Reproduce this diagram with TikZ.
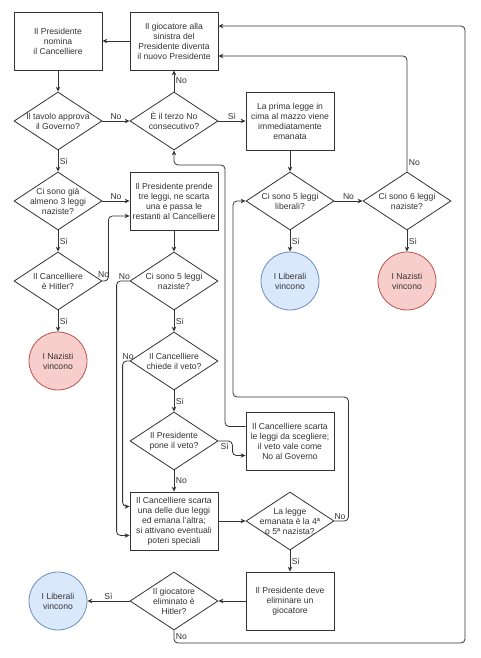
\documentclass[tikz,border=0pt]{standalone}
\usepackage{fontspec}
\setmainfont{Liberation Sans}
\usetikzlibrary{shapes.geometric,arrows.meta}
\definecolor{linec}{HTML}{333333}
\definecolor{txtc}{HTML}{333333}
\definecolor{redfill}{HTML}{F8CECC}
\definecolor{redline}{HTML}{B85450}
\definecolor{bluefill}{HTML}{DAE8FC}
\definecolor{blueline}{HTML}{6C8EBF}
\begin{document}
\begin{tikzpicture}[x=1pt,y=-1pt,
  every node/.style={font=\fontsize{8.6}{10}\selectfont, text=txtc},
  box/.style={draw=linec, fill=white, minimum width=88, minimum height=58, align=center, inner sep=0pt, line width=0.8pt},
  dia/.style={draw=linec, fill=white, diamond, aspect=1.52, minimum width=88, minimum height=58, inner sep=0pt, line width=0.8pt, label={[align=center]center:{#1}}},
  redc/.style={circle, draw=redline, fill=redfill, minimum size=58, inner sep=0pt, align=center, line width=0.8pt},
  bluec/.style={circle, draw=blueline, fill=bluefill, minimum size=58, inner sep=0pt, align=center, line width=0.8pt},
  arr/.style={draw=linec, line width=0.8pt, -{Stealth[length=5pt,width=4.5pt]}, rounded corners=4pt},
  lbl/.style={inner sep=1.5pt}
]
\useasboundingbox (0,0) rectangle (480,658);

% column 1
\node[box] (nom) at (58,41) {Il Presidente\\nomina\\il Cancelliere};
\node[dia={Il tavolo approva\\il Governo?}] (tav) at (58,121) {};
\node[dia={Ci sono già\\almeno 3 leggi\\naziste?}] (gia) at (58,201) {};
\node[dia={Il Cancelliere\\è Hitler?}] (hit) at (58,281) {};
\node[redc] (cn2) at (58,361) {I Nazisti\\vincono};
\node[bluec] (cl2) at (58,601) {I Liberali\\vincono};

% column 2
\node[box] (top) at (174,41) {Il giocatore alla\\sinistra del\\Presidente diventa\\il nuovo Presidente};
\node[dia={È il terzo No\\consecutivo?}] (ter) at (174,121) {};
\node[box] (pre) at (174,201) {Il Presidente prende\\tre leggi, ne scarta\\una e passa le\\restanti al Cancelliere};
\node[dia={Ci sono 5 leggi\\naziste?}] (n5) at (174,281) {};
\node[dia={Il Cancelliere\\chiede il veto?}] (vet) at (174,361) {};
\node[dia={Il Presidente\\pone il veto?}] (pon) at (174,441) {};
\node[box] (ced) at (174,521) {Il Cancelliere scarta\\una delle due leggi\\ed emana l'altra;\\si attivano eventuali\\poteri speciali};
\node[dia={Il giocatore\\eliminato è\\Hitler?}] (elim) at (174,601) {};

% column 3
\node[box] (prima) at (290,121) {La prima legge in\\cima al mazzo viene\\immediatamente\\emanata};
\node[dia={Ci sono 5 leggi\\liberali?}] (lib5) at (290,201) {};
\node[bluec] (cl1) at (290,281) {I Liberali\\vincono};
\node[box] (csl) at (290,441) {Il Cancelliere scarta\\le leggi da scegliere;\\il veto vale come\\No al Governo};
\node[dia={La legge\\emanata è la 4ª\\o 5ª nazista?}] (leg) at (290,521) {};
\node[box] (elimb) at (290,601) {Il Presidente deve\\eliminare un\\giocatore};

% column 4
\node[dia={Ci sono 6 leggi\\naziste?}] (naz6) at (407,201) {};
\node[redc] (cn1) at (407,281) {I Nazisti\\vincono};

% connectors
\draw[arr] (top.west) -- (nom.east);
\draw[arr] (nom.south) -- (tav.north);
\draw[arr] (tav.east) -- node[lbl,above]{No} (ter.west);
\draw[arr] (ter.north) -- node[lbl,right]{No} (top.south);
\draw[arr] (ter.east) -- node[lbl,above]{Sì} (prima.west);
\draw[arr] (prima.south) -- (lib5.north);
\draw[arr] (lib5.east) -- node[lbl,above]{No} (naz6.west);
\draw[arr] (lib5.south) -- node[lbl,right]{Sì} (cl1.north);
\draw[arr] (naz6.south) -- node[lbl,right]{Sì} (cn1.north);
\draw[arr] (naz6.north) |- node[lbl,pos=0.04,right]{No} ([yshift=-15pt]top.east);

\draw[arr] (tav.south) -- node[lbl,right]{Sì} (gia.north);
\draw[arr] (gia.east) -- node[lbl,above]{No} (pre.west);
\draw[arr] (gia.south) -- node[lbl,right]{Sì} (hit.north);
\draw[arr] (hit.south) -- node[lbl,right]{Sì} (cn2.north);
\draw[arr] (hit.east) -- node[lbl,pos=0.2,above=2pt]{No} ++(6,0) |- ([yshift=-15pt]pre.west);

\draw[arr] (pre.south) -- (n5.north);
\draw[arr] (n5.south) -- node[lbl,right]{Sì} (vet.north);
\draw[arr] (vet.south) -- node[lbl,right]{Sì} (pon.north);
\draw[arr] (pon.south) -- node[lbl,right]{No} (ced.north);
\draw[arr] (n5.west) -- node[lbl,pos=0.4,above]{No} ++(-13,0) |- ([yshift=-14.5pt]ced.west);
\draw[arr] (vet.west) -- node[lbl,pos=0.2,above]{No} ++(-7,0) |- ([yshift=14.5pt]ced.west);
\draw[arr] (pon.east) -- node[lbl,pos=0.45,below]{Sì} ++(14,0) |- ([yshift=-14.5pt]csl.west);
\draw[arr] ([yshift=14.5pt]csl.west) -| (225,165) -| (ter.south);

\draw[arr] (ced.east) -- (leg.west);
\draw[arr] (leg.east) -- node[lbl,pos=0.4,above]{No} ++(14,0) |- (233,397) |- (lib5.west);
\draw[arr] (leg.south) -- node[lbl,right]{Sì} (elimb.north);
\draw[arr] (elimb.west) -- (elim.east);
\draw[arr] (elim.west) -- node[lbl,above]{Sì} (cl2.east);
\draw[arr] (elim.south) |- node[lbl,pos=0.25,right]{No} (465,643) |- ([yshift=15pt]top.east);
\end{tikzpicture}
\end{document}
